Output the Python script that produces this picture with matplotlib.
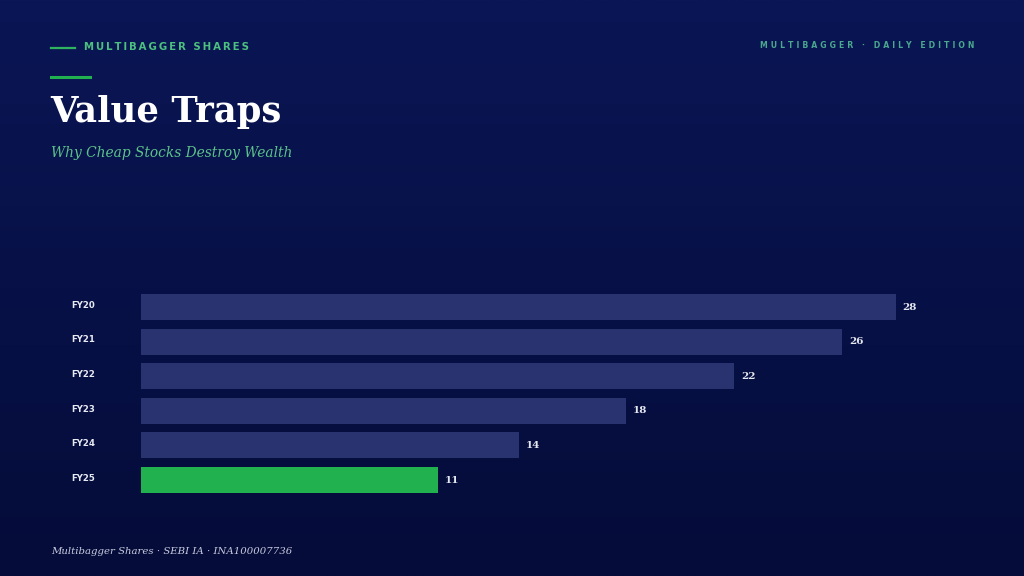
import numpy as np
import matplotlib
matplotlib.use("Agg")
import matplotlib.pyplot as plt
from matplotlib.colors import LinearSegmentedColormap

years = ['FY20', 'FY21', 'FY22', 'FY23', 'FY24', 'FY25']
values = [28, 26, 22, 18, 14, 11]
bar_colors = ['#28336f', '#28336f', '#28336f', '#28336f', '#28336f', '#22b14f']

W, H = 1024, 576
fig = plt.figure(figsize=(W / 100, H / 100), dpi=100)

# background gradient
bg = fig.add_axes([0, 0, 1, 1])
cmap = LinearSegmentedColormap.from_list('bg', ['#0a1655', '#050c39'])
bg.imshow(np.linspace(0, 1, 256).reshape(-1, 1), aspect='auto', cmap=cmap,
          extent=[0, 1, 0, 1])
bg.set_xlim(0, 1)
bg.set_ylim(0, 1)
bg.axis('off')


def spaced(s, sep='\u200a'):
    return sep.join(s)


def fx(px):
    return px / W


def fy(py):
    return 1 - py / H


# header
bg.plot([fx(51), fx(75)], [fy(47.5), fy(47.5)], color='#2fb35f', lw=1.6)
bg.text(fx(84), fy(47), spaced('MULTIBAGGER SHARES', '\u200a\u200a'), color='#4cc07e',
        fontsize=7.3, fontweight='bold', family='DejaVu Sans', va='center', ha='left')
bg.plot([fx(51), fx(90)], [fy(76.5), fy(76.5)], color='#22b14f', lw=2.2)
bg.text(fx(50), fy(112), 'Value Traps', color='white', fontsize=25.5,
        fontweight='bold', family='DejaVu Serif', va='center', ha='left')
bg.text(fx(51), fy(153), 'Why Cheap Stocks Destroy Wealth', color='#5cc28a',
        fontsize=9.9, style='italic', family='DejaVu Serif', va='center', ha='left')
bg.text(fx(974), fy(46), spaced('MULTIBAGGER · DAILY EDITION', '\u2009\u200a\u200a'),
        color='#4aa88e', fontsize=5.6, fontweight='bold', family='DejaVu Sans',
        va='center', ha='right')

# footer
bg.text(fx(51), fy(551), 'Multibagger Shares · SEBI IA · INA100007736',
        color='#c8cde0', fontsize=7.3, style='italic', family='DejaVu Serif',
        va='center', ha='left')

# bar chart
xmax = 32
px_per_unit = (896 - 141) / 28
ax_left = 141
ax_width = xmax * px_per_unit
pitch = 34.6
ax_top = 307 - pitch / 2
ax_height = pitch * len(years)
ax = fig.add_axes([fx(ax_left), fy(ax_top + ax_height), ax_width / W, ax_height / H])
ax.set_facecolor('none')
y = np.arange(len(years))
ax.barh(y, values, height=0.75, color=bar_colors)
ax.set_xlim(0, xmax)
ax.set_ylim(len(years) - 0.5, -0.5)
for i, v in enumerate(values):
    ax.text(v + 0.25, i, str(v), color='#e6e8f0', fontsize=7.5, fontweight='bold',
            family='DejaVu Serif', va='center', ha='left')
for i, lab in enumerate(years):
    ax.text(-70 / px_per_unit, i - 0.05, lab, color='#e8eaf2', fontsize=6.2,
            fontweight='bold', family='DejaVu Sans', va='center', ha='left',
            clip_on=False)
ax.set_xticks([])
ax.set_yticks([])
for s in ax.spines.values():
    s.set_visible(False)

fig.savefig('out.png', dpi=100)
